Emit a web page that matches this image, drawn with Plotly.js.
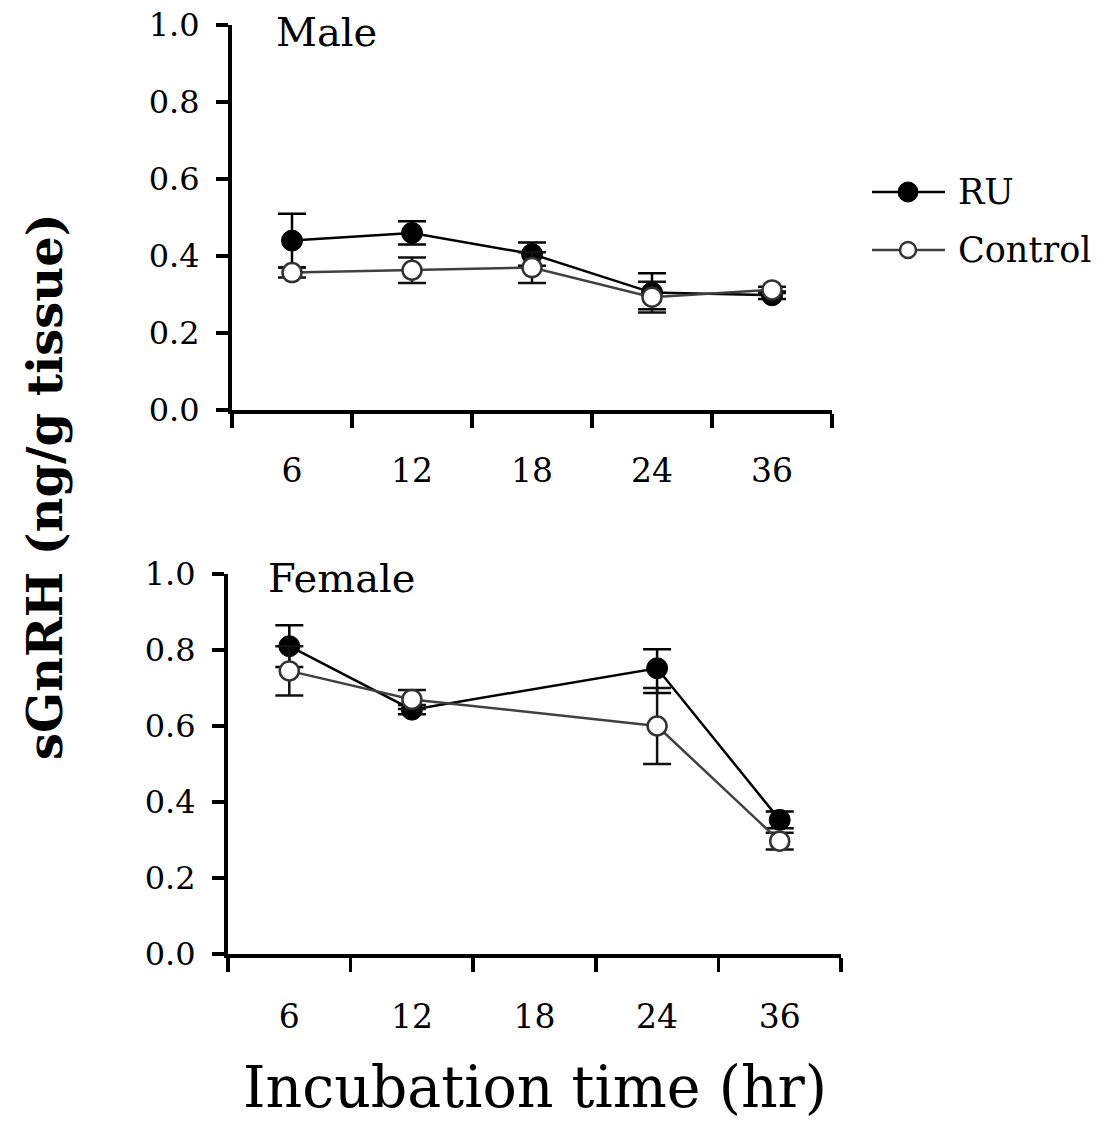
<!DOCTYPE html>
<html>
<head>
<meta charset="utf-8">
<script src="https://cdn.plot.ly/plotly-3.0.1.min.js"></script>
<style>html,body{margin:0;padding:0;background:#fff}#chart{width:1105px;height:1124px}</style>
</head>
<body>
<div id="chart"></div>
<script>
// ---- data ----
var categories = ['6', '12', '18', '24', '36'];
var tickLabels = ['6', '12', '18', '24', '36'];
var seriesNames = ['RU', 'Control'];

var maleX = ['6', '12', '18', '24', '36'];
var maleRU = [0.44, 0.46, 0.405, 0.305, 0.298];
var maleRUErr = [0.07, 0.03, 0.03, 0.05, 0.01];
var maleRUErrMinus = [0.07, 0.03, 0.03, 0.043, 0.01];
var maleControl = [0.357, 0.363, 0.37, 0.293, 0.312];
var maleControlErr = [0.013, 0.033, 0.04, 0.04, 0.008];

var femaleX = ['6', '12', '24', '36'];
var femaleRU = [0.81, 0.643, 0.752, 0.353];
var femaleRUErr = [0.055, 0.012, 0.05, 0.022];
var femaleRUErrMinus = [0.055, 0.012, 0.065, 0.022];
var femaleControl = [0.745, 0.67, 0.60, 0.297];
var femaleControlErr = [0.065, 0.025, 0.10, 0.022];

var FONT = 'DejaVu Serif, Liberation Serif, serif';
var W = 1105, H = 1124;
function px(x) { return x / W; }
function py(y) { return 1 - y / H; }

function ruTrace(x, y, ep, em, xa, ya) {
  return {
    type: 'scatter', mode: 'lines+markers', name: seriesNames[0], x: x, y: y,
    xaxis: xa, yaxis: ya, showlegend: false,
    line: {color: '#000', width: 2.5},
    marker: {symbol: 'circle', size: 21, color: '#000', line: {color: '#000', width: 1}},
    error_y: {type: 'data', symmetric: false, array: ep, arrayminus: em, color: '#000', thickness: 2.5, width: 14}
  };
}
function ctrlTrace(x, y, e, xa, ya) {
  return {
    type: 'scatter', mode: 'lines+markers', name: seriesNames[1], x: x, y: y,
    xaxis: xa, yaxis: ya, showlegend: false,
    line: {color: '#404040', width: 2.5},
    marker: {symbol: 'circle', size: 19, color: '#fff', line: {color: '#333', width: 2.5}},
    error_y: {type: 'data', array: e, color: '#111', thickness: 2.5, width: 14}
  };
}

var data = [
  ruTrace(maleX, maleRU, maleRUErr, maleRUErrMinus, 'x', 'y'),
  ctrlTrace(maleX, maleControl, maleControlErr, 'x', 'y'),
  ruTrace(femaleX, femaleRU, femaleRUErr, femaleRUErrMinus, 'x2', 'y2'),
  ctrlTrace(femaleX, femaleControl, femaleControlErr, 'x2', 'y2')
];

function xAxis(dom, anchor, standoff) {
  return {
    domain: dom, anchor: anchor, type: 'category',
    categoryorder: 'array', categoryarray: categories,
    tickvals: categories, ticktext: tickLabels,
    range: [-0.5, 4.5], tickson: 'boundaries',
    ticks: 'outside', ticklen: 14, tickwidth: 3.5, tickcolor: '#000',
    showline: true, linewidth: 4, linecolor: '#000',
    showgrid: false, zeroline: false, automargin: false,
    ticklabelstandoff: standoff,
    tickfont: {family: FONT, size: 33, color: '#000'}
  };
}
function yAxis(dom, anchor) {
  return {
    domain: dom, anchor: anchor, range: [0, 1], dtick: 0.2, tick0: 0,
    tickformat: '.1f',
    ticks: 'outside', ticklen: 12, tickwidth: 3.5, tickcolor: '#000',
    showline: true, linewidth: 4, linecolor: '#000',
    showgrid: false, zeroline: false, automargin: false,
    ticklabelstandoff: 10,
    tickfont: {family: FONT, size: 32, color: '#000'}
  };
}

// legend key (drawn as paper-space decorations)
var legendShapes = [
  {type: 'line', xref: 'paper', yref: 'paper', x0: px(872), x1: px(945), y0: py(192), y1: py(192), line: {color: '#000', width: 2.5}},
  {type: 'circle', xref: 'paper', yref: 'paper', x0: px(898), x1: px(918), y0: py(202), y1: py(182), fillcolor: '#000', line: {color: '#000', width: 1}},
  {type: 'line', xref: 'paper', yref: 'paper', x0: px(872), x1: px(945), y0: py(250), y1: py(250), line: {color: '#404040', width: 2.5}},
  {type: 'circle', xref: 'paper', yref: 'paper', x0: px(900), x1: px(916), y0: py(258), y1: py(242), fillcolor: '#fff', line: {color: '#333', width: 2.5}}
];

var layout = {
  width: W, height: H,
  margin: {l: 0, r: 0, t: 0, b: 0},
  paper_bgcolor: '#fff', plot_bgcolor: 'rgba(0,0,0,0)',
  showlegend: false,
  xaxis: xAxis([px(232), px(832)], 'y', 28),
  yaxis: yAxis([py(410), py(25)], 'x'),
  xaxis2: xAxis([px(228), px(841)], 'y2', 30),
  yaxis2: yAxis([py(954), py(574)], 'x2'),
  shapes: legendShapes,
  annotations: [
    {text: seriesNames[0], xref: 'paper', yref: 'paper', x: px(956), y: py(192), xanchor: 'left', yanchor: 'middle',
     showarrow: false, font: {family: FONT, size: 35, color: '#000'}},
    {text: seriesNames[1], xref: 'paper', yref: 'paper', x: px(956), y: py(250), xanchor: 'left', yanchor: 'middle',
     showarrow: false, font: {family: FONT, size: 35, color: '#000'}},
    {text: 'Male', xref: 'paper', yref: 'paper', x: px(274), y: py(32), xanchor: 'left', yanchor: 'middle',
     showarrow: false, font: {family: FONT, size: 40, color: '#000'}},
    {text: 'Female', xref: 'paper', yref: 'paper', x: px(266), y: py(578), xanchor: 'left', yanchor: 'middle',
     showarrow: false, font: {family: FONT, size: 40, color: '#000'}},
    {text: '<b>sGnRH (ng/g tissue)</b>', xref: 'paper', yref: 'paper', x: px(45), y: py(487), xanchor: 'center', yanchor: 'middle',
     textangle: -90, showarrow: false, font: {family: FONT, size: 48, color: '#000'}},
    {text: 'Incubation time (hr)', xref: 'paper', yref: 'paper', x: px(535), y: py(1122), xanchor: 'center', yanchor: 'bottom',
     showarrow: false, font: {family: FONT, size: 57, color: '#000'}}
  ]
};

Plotly.newPlot('chart', data, layout, {staticPlot: true, displayModeBar: false});
</script>
</body>
</html>
